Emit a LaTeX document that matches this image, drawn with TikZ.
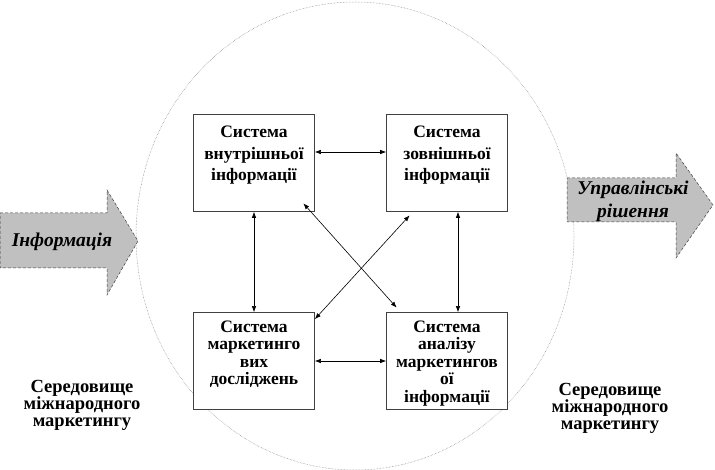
\documentclass[tikz,border=0pt]{standalone}
\usepackage{fontspec}
\setmainfont{Liberation Serif}
\usepackage{tikz}
\usetikzlibrary{calc,arrows.meta,positioning}
\definecolor{boxline}{HTML}{404040}
\definecolor{arrowfill}{HTML}{C0C0C0}

\begin{document}
\begin{tikzpicture}[x=1pt,y=-1pt,>={Latex[length=6pt,width=4.5pt]},
  sysbox/.style={draw=boxline,fill=white,line width=0.7pt,minimum width=121pt,minimum height=97pt,inner sep=0pt},
  systext/.style={align=center,inner sep=0pt,font=\bfseries\fontsize{17.5}{#1}\selectfont},
  envtext/.style={align=center,inner sep=0pt,font=\bfseries\fontsize{18.5}{17}\selectfont},
  arrowtext/.style={align=center,inner sep=0pt,font=\bfseries\itshape\fontsize{19.5}{23}\selectfont},
  bigarrow/.style={fill=arrowfill,draw=boxline,densely dashed,line width=0.5pt},
  link/.style={<->,line width=0.6pt}]
\useasboundingbox (0,0) rectangle (715,470);
\draw[gray,densely dotted,line width=0.5pt] (355,236) ellipse [x radius=219,y radius=234];
\draw[bigarrow] (0,213)--(107,213)--(107,190)--(138,241)--(107,295)--(107,268)--(0,268)--cycle;
\node[arrowtext] (info) at (62,242) {Інформація};
\draw[bigarrow] (567,178)--(676,178)--(676,153)--(713,205)--(676,258)--(676,222)--(567,222)--cycle;
\node[arrowtext] (decision) at (633,201) {Управлінські\\рішення};
\node[envtext] (envleft) at (82,405) {Середовище\\міжнародного\\маркетингу};
\node[envtext] (envright) at (610,408) {Середовище\\міжнародного\\маркетингу};
\node[sysbox] (intern) at (254,163) {};
\node[sysbox] (extern) at (447,163) {};
\node[sysbox] (survey) at (254,361) {};
\node[sysbox] (analysis) at (447,361) {};
\node[systext=21.5,below=12pt of intern.north] (intern-t) {Система\\внутрішньої\\інформації};
\node[systext=21.5,below=12pt of extern.north] (extern-t) {Система\\зовнішньої\\інформації};
\node[systext=17.5,below=8.5pt of survey.north] (survey-t) {Система\\маркетинго\\вих\\досліджень};
\node[systext=17.5,below=8.5pt of analysis.north] (analysis-t) {Система\\аналізу\\маркетингов\\ої\\інформації};
\draw[link] ([yshift=11pt]intern.east) -- ([yshift=11pt]extern.west);
\draw[link] (survey.east) -- (analysis.west);
\draw[link] (intern.south) -- (survey.north);
\draw[link] ([xshift=11pt]extern.south) -- ([xshift=11pt]analysis.north);
\draw[link] ($(intern.south east)+(-11.5,-8.5)$) -- ($(analysis.north west)+(10.5,-4.5)$);
\draw[link] ($(extern.south west)+(23.5,3.5)$) -- ($(survey.north east)+(0,7)$);
\end{tikzpicture}
\end{document}
